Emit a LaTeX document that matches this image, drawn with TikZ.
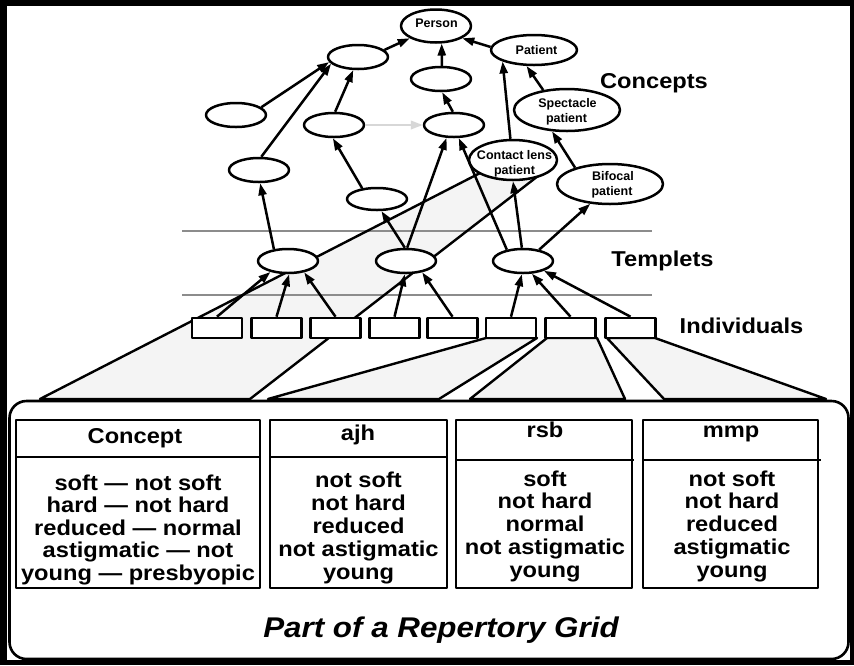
\documentclass[tikz,border=0pt]{standalone}
\usepackage{fontspec}
\setmainfont{Liberation Sans}
\newfontfamily\widefont{Liberation Sans}[FakeStretch=1.1]
\usetikzlibrary{shapes.geometric,arrows.meta}

\definecolor{wedgefill}{RGB}{244,244,244}
\definecolor{levelline}{RGB}{140,140,140}
\definecolor{softarrow}{RGB}{215,215,215}

\begin{document}
\begin{tikzpicture}[x=1pt,y=-1pt,line join=round,
  concept/.style={draw,ellipse,line width=2.5pt,fill=white,inner sep=0pt,
                  minimum width=60pt,minimum height=24pt},
  indiv/.style={draw,rectangle,line width=2.6pt,fill=white,inner sep=0pt,
                minimum width=50pt,minimum height=20pt},
  link/.style={line width=2.5pt,-{Triangle[length=12pt,width=8pt]}},
  softlink/.style={line width=2.2pt,draw=softarrow,-{Triangle[length=12pt,width=8.5pt]}},
  wedgeline/.style={line width=2.4pt},
  levelrule/.style={draw=levelline,line width=2.2pt},
  elabel/.style={font=\bfseries\fontsize{12.5}{15}\selectfont,inner sep=0pt,anchor=base},
  tierlabel/.style={font=\widefont\bfseries\fontsize{21.5}{24}\selectfont,inner sep=0pt,anchor=base},
  cell/.style={font=\widefont\bfseries\fontsize{21.5}{22.5}\selectfont,inner sep=0pt,anchor=base},
  gridbox/.style={line width=2.6pt}]

\useasboundingbox (0,0) rectangle (854,665);

% black frame round the page
\fill[black] (0,0) rectangle (854,665);
\fill[white] (7,6) rectangle (850,660);

% fans from the individuals down to the grid columns
\fill[wedgefill] (40,399) -- (482,172) -- (538,176) -- (250,399) -- cycle;
\fill[wedgefill] (486,338) -- (537,338) -- (439,399) -- (268,399) -- cycle;
\fill[wedgefill] (547,338) -- (597,338) -- (625,399) -- (470,399) -- cycle;
\fill[wedgefill] (607,338) -- (655,338) -- (826,399) -- (664,399) -- cycle;

% tier separators
\draw[levelrule] (182,231) -- (652,231);
\draw[levelrule] (182,295) -- (652,295);

\draw[wedgeline] (40,399) -- (482,172) -- (538,176) -- (250,399) -- cycle;
\draw[wedgeline] (486,338) -- (537,338) -- (439,399) -- (268,399) -- cycle;
\draw[wedgeline] (547,338) -- (597,338) -- (625,399) -- (470,399) -- cycle;
\draw[wedgeline] (607,338) -- (655,338) -- (826,399) -- (664,399) -- cycle;

% grid frame
\draw[line width=2.6pt,rounded corners=17pt] (9.5,401) rectangle (848.5,659);

% concepts
\node[concept,minimum width=70pt,minimum height=33pt] (Person) at (436,26) {};
\node[concept] (E1) at (358,57) {};
\node[concept] (E2) at (236,115) {};
\node[concept] (E3) at (334,125) {};
\node[concept] (E4) at (441,79) {};
\node[concept] (E5) at (454,125) {};
\node[concept] (E6) at (259,170) {};
\node[concept,minimum height=22pt] (E7) at (377,199) {};
\node[concept,minimum width=86pt,minimum height=30pt] (Patient) at (534,50) {};
\node[concept,minimum width=106pt,minimum height=42pt] (Spectacle) at (567,110) {};
\node[concept,minimum width=88pt,minimum height=40pt] (Contact) at (513,160) {};
\node[concept,minimum width=106pt,minimum height=40pt] (Bifocal) at (610,184) {};

\node[elabel] (PersonT) at (436.5,27.5) {Person};
\node[elabel] (PatientT) at (536.5,54) {Patient};
\node[elabel] (SpecT1) at (567.5,107.3) {Spectacle};
\node[elabel] (SpecT2) at (566.5,122.7) {patient};
\node[elabel] (ContT1) at (514.5,159.3) {Contact lens};
\node[elabel] (ContT2) at (514.5,174) {patient};
\node[elabel] (BifT1) at (613,180) {Bifocal};
\node[elabel] (BifT2) at (612,195) {patient};

% templets
\node[concept] (T1) at (288,261) {};
\node[concept] (T2) at (406,261) {};
\node[concept] (T3) at (523,261) {};

% individuals
\node[indiv] (R1) at (217,328) {};
\node[indiv] (R2) at (276.5,328) {};
\node[indiv] (R3) at (335.5,328) {};
\node[indiv] (R4) at (394.5,328) {};
\node[indiv] (R5) at (452.5,328) {};
\node[indiv] (R6) at (511,328) {};
\node[indiv] (R7) at (570.5,328) {};
\node[indiv] (R8) at (630.5,328) {};

% tier names
\node[tierlabel] (Lconcepts) at (654,88) {Concepts};
\node[tierlabel] (Ltemplets) at (662.5,266.5) {Templets};
\node[tierlabel] (Lindiv) at (741.5,333) {Individuals};

% concept hierarchy
\draw[link] (E1.15) -- (Person.205);
\draw[link] (E2.17) -- (E1.190);
\draw[link] (E6.80) -- (E1.194);
\draw[link] (E3.85) -- (E1.250);
\draw[link] (E4.86) -- (Person.288);
\draw[link] (E5.95) -- (E4.275);
\draw[softlink] (E3.0) -- (E5.180);
\draw[link] (E7.144) -- (E3.265);
\draw[link] (Patient.176) -- (Person.335);
\draw[link] (Contact.97) -- (Patient.200);
\draw[link] (Spectacle.140) -- (Patient.245);
\draw[link] (Bifocal.155) -- (Spectacle.235);

% templets to concepts
\draw[link] (T1.140) -- (E6.275);
\draw[link] (T2.95) -- (E7.290);
\draw[link] (T2.85) -- (E5.240);
\draw[link] (T3.145) -- (E5.290);
\draw[link] (T3.95) -- (Contact.270);
\draw[link] (T3.35) -- (Bifocal.225);

% individuals to templets
\draw[link] (R1.north) -- (T1.212);
\draw[link] (R2.north) -- (T1.275);
\draw[link] (R3.north) -- (T1.325);
\draw[link] (R4.north) -- (T2.265);
\draw[link] (R5.north) -- (T2.325);
\draw[link] (R6.north) -- (T3.265);
\draw[link] (R7.north) -- (T3.305);
\draw[link] (R8.north) -- (T3.335);

% repertory grid columns
\draw[gridbox] (16,420) rectangle (260,588);
\draw[gridbox] (16,457) -- (260,457);
\draw[gridbox] (270,420) rectangle (447,588);
\draw[gridbox] (270,457) -- (447,457);
\draw[gridbox] (456,420) rectangle (632,588);
\draw[gridbox] (456,460) -- (634,460);
\draw[gridbox] (643,420) rectangle (818,588);
\draw[gridbox] (643,460) -- (821,460);

\node[cell] (Hc) at (135,443) {Concept};
\node[cell] (Ha) at (358,440) {ajh};
\node[cell] (Hr) at (545,437) {rsb};
\node[cell] (Hm) at (731,437) {mmp};

\foreach \t [count=\i] in {soft — not soft,hard — not hard,reduced — normal,astigmatic — not,young — presbyopic}
  \node[cell] (c\i) at (138,{490+22.5*(\i-1)}) {\t};
\foreach \t [count=\i] in {not soft,not hard,reduced,not astigmatic,young}
  \node[cell] (a\i) at (358.5,{487+23*(\i-1)}) {\t};
\foreach \t [count=\i] in {soft,not hard,normal,not astigmatic,young}
  \node[cell] (r\i) at (545,{486+22.75*(\i-1)}) {\t};
\foreach \t [count=\i] in {not soft,not hard,reduced,astigmatic,young}
  \node[cell] (m\i) at (732,{486+22.75*(\i-1)}) {\t};

\node[font=\widefont\bfseries\itshape\fontsize{28.5}{32}\selectfont,inner sep=0pt,anchor=base]
  (Title) at (441,637) {Part of a Repertory Grid};

\end{tikzpicture}
\end{document}
